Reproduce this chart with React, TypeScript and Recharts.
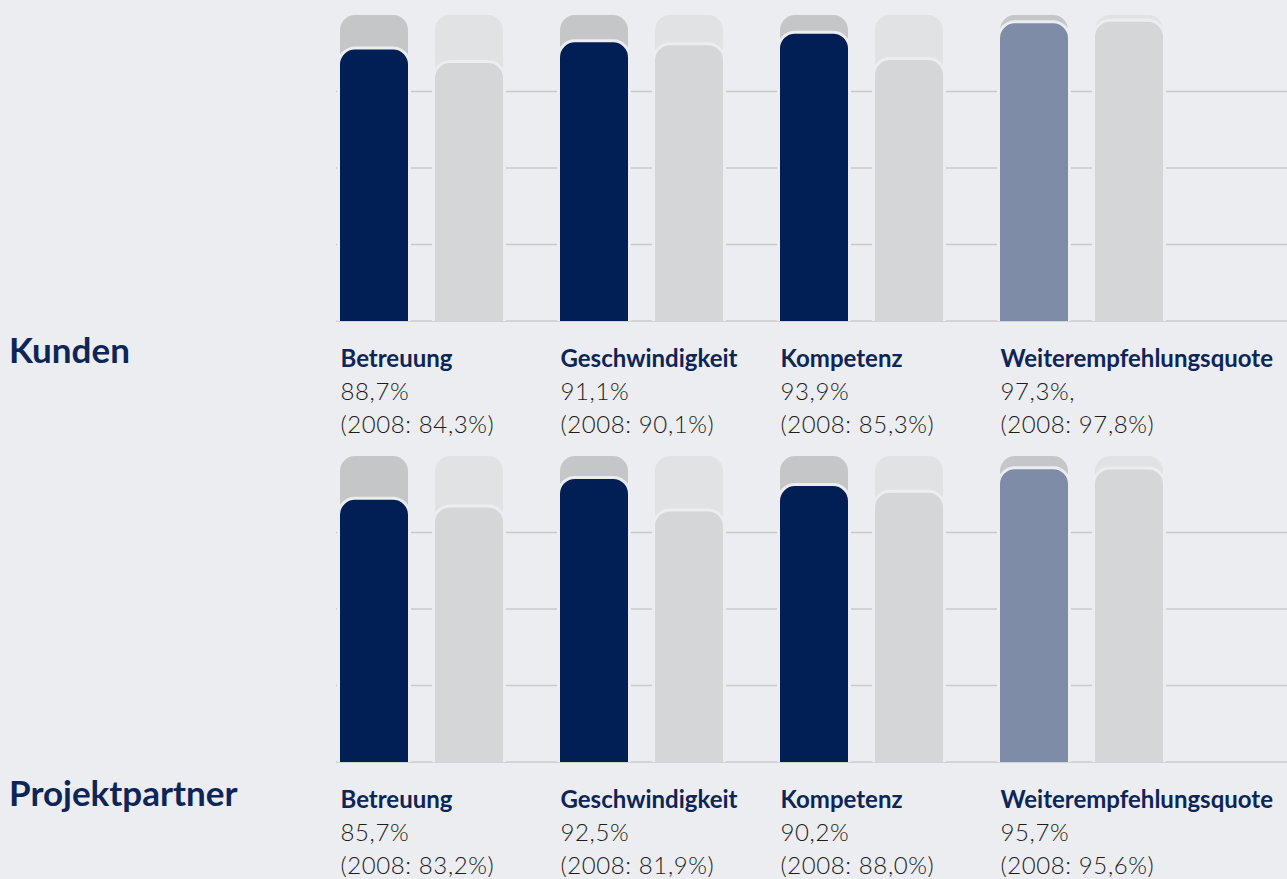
import { Bar, BarChart, CartesianGrid, Cell, Rectangle, XAxis, YAxis } from "recharts"

// Umfrageergebnisse (Zufriedenheit in %)
const categories = ["Betreuung", "Geschwindigkeit", "Kompetenz", "Weiterempfehlungsquote"]

const kundenCurrent = [88.7, 91.1, 93.9, 97.3]
const kundenPrevious = [84.3, 90.1, 85.3, 97.8]
const kundenCurrentText = ["88,7%", "91,1%", "93,9%", "97,3%,"]
const kundenPreviousText = ["(2008: 84,3%)", "(2008: 90,1%)", "(2008: 85,3%)", "(2008: 97,8%)"]

const partnerCurrent = [85.7, 92.5, 90.2, 95.7]
const partnerPrevious = [83.2, 81.9, 88.0, 95.6]
const partnerCurrentText = ["85,7%", "92,5%", "90,2%", "95,7%"]
const partnerPreviousText = ["(2008: 83,2%)", "(2008: 81,9%)", "(2008: 88,0%)", "(2008: 95,6%)"]

const gridTicks = [0, 25, 50, 75]
const fullScale = 100

const BG = "#ecedf0"
const NAVY = "#011e55"
const currentColors = [NAVY, NAVY, NAVY, "#7f8ca8"]
const BAR = 68
const GAP = 27
const HALO = 3
const RADIUS = 15
const FONT = "Lato, 'Open Sans', sans-serif"

function Capsule({ x, y, width, height, fill }: any) {
  if (width == null || height == null) return null
  return (
    <g>
      <Rectangle
        x={x - HALO}
        y={y - HALO}
        width={width + HALO * 2}
        height={height + HALO}
        radius={[RADIUS + HALO, RADIUS + HALO, 0, 0]}
        fill={BG}
      />
      <Rectangle x={x} y={y} width={width} height={height} radius={[RADIUS, RADIUS, 0, 0]} fill={fill} />
    </g>
  )
}

function makeTick(currentText: string[], previousText: string[]) {
  return (props: any) => {
    const { x, y, payload, index } = props
    const left = x - (BAR * 2 + GAP) / 2 + 1
    return (
      <g fontFamily={FONT}>
        <text x={left} y={y + 46} fill="#0e2557" fontWeight={700} fontSize={24}>
          {payload.value}
        </text>
        <text x={left} y={y + 79} fill="#1c1c1c" fontSize={24} fontWeight={300} letterSpacing={0.6}>
          {currentText[index]}
        </text>
        <text x={left} y={y + 112} fill="#1c1c1c" fontSize={24} fontWeight={300} letterSpacing={0.6}>
          {previousText[index]}
        </text>
      </g>
    )
  }
}

// grid only at the tick values (no line at 100%)
function gridLines({ offset }: any) {
  if (!offset) return []
  return gridTicks.map((t) => offset.top + offset.height * (1 - t / fullScale))
}

type RowProps = {
  title: string
  titleY: number
  current: number[]
  previous: number[]
  currentText: string[]
  previousText: string[]
}

function Row({ title, titleY, current, previous, currentText, previousText }: RowProps) {
  const data = categories.map((name, i) => ({ name, current: current[i], previous: previous[i] }))
  return (
    <div style={{ position: "relative", width: 1287, height: 441 }}>
      <BarChart
        width={1287}
        height={441}
        data={data}
        margin={{ top: 15, right: 0, bottom: 0, left: 311 }}
        barSize={BAR}
        barGap={GAP}
      >
        <CartesianGrid
          vertical={false}
          stroke="#c9cacc"
          strokeWidth={1.5}
          x={336}
          width={951}
          horizontalCoordinatesGenerator={gridLines}
        />
        <XAxis
          dataKey="name"
          axisLine={false}
          tickLine={false}
          tickSize={0}
          tickMargin={0}
          height={120}
          interval={0}
          padding={{ left: 0, right: 96 }}
          tick={makeTick(currentText, previousText)}
        />
        <YAxis hide domain={[0, fullScale]} ticks={gridTicks} />
        <Bar
          dataKey="current"
          isAnimationActive={false}
          background={(p: any) => <Capsule key={`bgc-${p.index}`} x={p.x} y={p.y} width={p.width} height={p.height} fill="#c5c6c8" />}
          shape={(p: any) => <Capsule key={`c-${p.index}`} x={p.x} y={p.y} width={p.width} height={p.height} fill={p.fill} />}
        >
          {data.map((d, i) => (
            <Cell key={d.name} fill={currentColors[i]} />
          ))}
        </Bar>
        <Bar
          dataKey="previous"
          fill="#d5d6d8"
          isAnimationActive={false}
          background={(p: any) => <Capsule key={`bgp-${p.index}`} x={p.x} y={p.y} width={p.width} height={p.height} fill="#e1e2e3" />}
          shape={(p: any) => <Capsule key={`p-${p.index}`} x={p.x} y={p.y} width={p.width} height={p.height} fill={p.fill} />}
        />
      </BarChart>
      <svg width={300} height={441} style={{ position: "absolute", left: 0, top: 0 }}>
        <text x={9} y={titleY} fill="#0e2557" fontFamily={FONT} fontWeight={700} fontSize={35}>
          {title}
        </text>
      </svg>
    </div>
  )
}

export default function App() {
  return (
    <div
      style={{
        position: "absolute",
        left: 0,
        top: 0,
        width: 1287,
        height: 879,
        overflow: "hidden",
        background: BG,
      }}
    >
      <Row
        title="Kunden"
        titleY={363}
        current={kundenCurrent}
        previous={kundenPrevious}
        currentText={kundenCurrentText}
        previousText={kundenPreviousText}
      />
      <Row
        title="Projektpartner"
        titleY={365}
        current={partnerCurrent}
        previous={partnerPrevious}
        currentText={partnerCurrentText}
        previousText={partnerPreviousText}
      />
    </div>
  )
}
